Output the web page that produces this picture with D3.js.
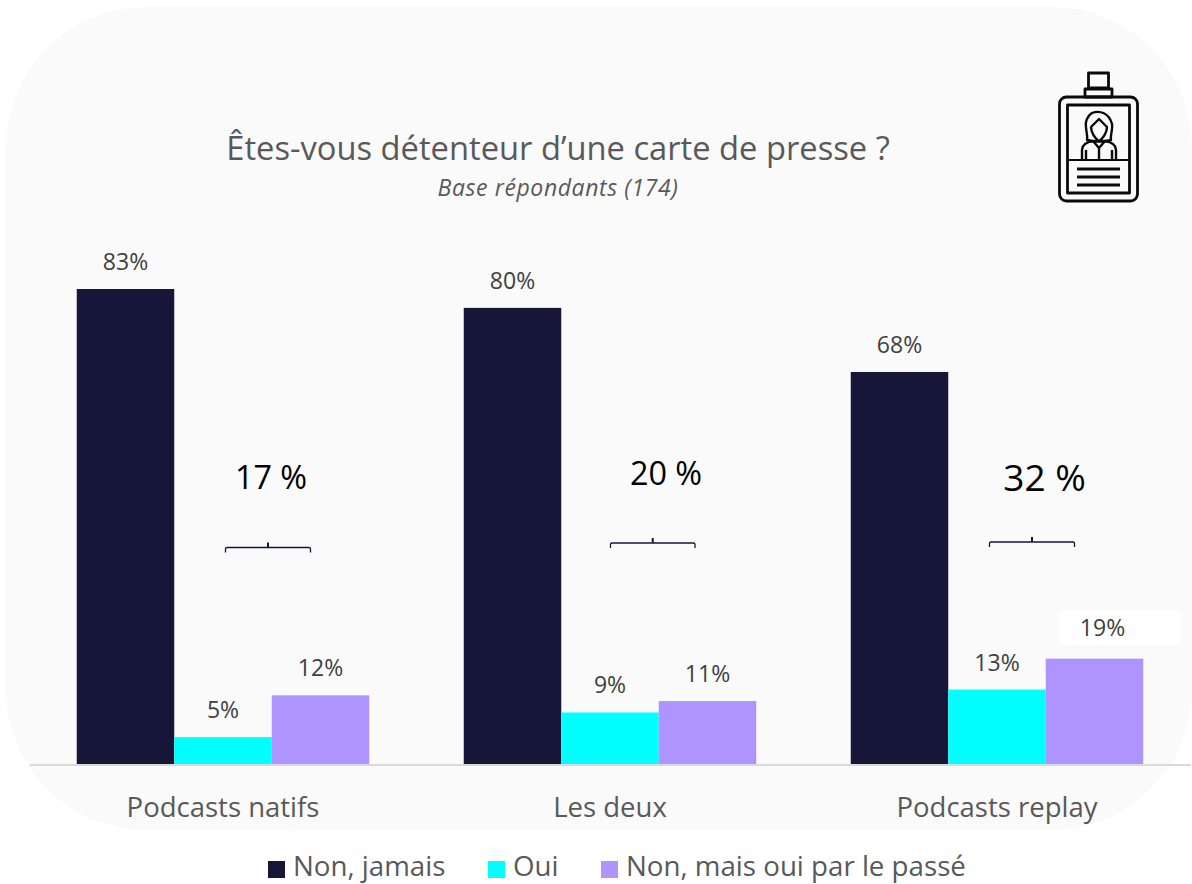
<!DOCTYPE html>
<html>
<head>
    <meta charset="utf-8">
    <title>Carte de presse</title>
    <script src="https://d3js.org/d3.v7.min.js"></script>
    <style>
        html, body { margin: 0; padding: 0; background: #fff; overflow: hidden; }
        text { font-family: "Open Sans", sans-serif; }
    </style>
</head>

<body>
<div id="chart"></div>
<script type="text/javascript">

    // donnees
    const categories = ["Podcasts natifs", "Les deux", "Podcasts replay"];
    const seriesNames = ["Non, jamais", "Oui", "Non, mais oui par le passé"];
    const seriesColors = ["#161638", "#00FFFF", "#AF94FF"];
    const nonJamais = [83, 79.7, 68.5];
    const oui = [4.7, 9, 13];
    const passe = [12, 11, 18.4];
    const nonJamaisLabels = ["83%", "80%", "68%"];
    const ouiLabels = ["5%", "9%", "13%"];
    const passeLabels = ["12%", "11%", "19%"];
    const totals = ["17 %", "20 %", "32 %"];

    const seriesValues = [nonJamais, oui, passe];
    const seriesLabels = [nonJamaisLabels, ouiLabels, passeLabels];

    const w = 1192, h = 884;
    const baseline = 764;

    const svg = d3.select("#chart")
        .append("svg")
        .attr("width", w)
        .attr("height", h)
        .style("display", "block");

    // fond arrondi
    svg.append("rect")
        .attr("x", 6).attr("y", 7)
        .attr("width", 1186).attr("height", 823)
        .attr("rx", 140).attr("ry", 140)
        .attr("fill", "#FAFAFA");

    const x0 = d3.scaleBand()
        .domain(categories)
        .range([29.5, 1190.5])
        .paddingInner(0.2442)
        .paddingOuter(0.1221);

    const x1 = d3.scaleBand()
        .domain(seriesNames)
        .range([0, x0.bandwidth()]);

    const y = d3.scaleLinear()
        .domain([0, 83])
        .range([baseline, 289]);

    // case blanche derriere le 19%
    svg.append("rect")
        .attr("x", 1060).attr("y", 610)
        .attr("width", 120).attr("height", 35)
        .attr("fill", "#fff");

    // barres
    seriesNames.forEach(function(name, s) {
        const g = svg.append("g");
        g.selectAll("rect")
            .data(categories)
            .enter()
            .append("rect")
            .attr("x", function(c) { return x0(c) + x1(name); })
            .attr("y", function(c, i) { return y(seriesValues[s][i]); })
            .attr("width", x1.bandwidth())
            .attr("height", function(c, i) { return baseline - y(seriesValues[s][i]); })
            .attr("fill", seriesColors[s]);

        g.selectAll("text")
            .data(categories)
            .enter()
            .append("text")
            .attr("x", function(c, i) {
                // le 19% est decale dans sa case blanche
                const dx = (s === 2 && i === 2) ? 8 : 0;
                return x0(c) + x1(name) + x1.bandwidth() / 2 + dx;
            })
            .attr("y", function(c, i) {
                const up = (s === 2 && i === 2) ? 23 : 19;
                return y(seriesValues[s][i]) - up;
            })
            .attr("text-anchor", "middle")
            .attr("font-size", "23px")
            .attr("fill", "#404040")
            .text(function(c, i) { return seriesLabels[s][i]; });
    });

    // axe
    const xAxis = d3.axisBottom(x0).tickSize(0).tickPadding(33);
    const axisG = svg.append("g")
        .attr("transform", "translate(0," + (baseline + 0.5) + ")")
        .call(xAxis);
    axisG.select(".domain").attr("stroke", "#D9D9D9").attr("stroke-width", 2);
    axisG.selectAll("text")
        .attr("font-family", "Open Sans")
        .attr("font-size", "27.5px")
        .attr("fill", "#595959");

    // titres
    svg.append("text")
        .attr("x", 558).attr("y", 160)
        .attr("text-anchor", "middle")
        .attr("font-size", "32.7px")
        .attr("fill", "#595959")
        .text("Êtes-vous détenteur d’une carte de presse ?");
    svg.append("text")
        .attr("x", 558).attr("y", 196)
        .attr("text-anchor", "middle")
        .attr("font-size", "23px")
        .attr("letter-spacing", "0.6px")
        .attr("font-style", "italic")
        .attr("fill", "#595959")
        .text("Base répondants (174)");

    // accolades et totaux (oui + passe)
    const bracketLayout = [
        {left: 225.5, right: 310.5, top: 547.5, textX: 271, textY: 489, size: 32.4},
        {left: 610.5, right: 695, top: 543, textX: 666, textY: 485, size: 32.4},
        {left: 989.5, right: 1074.5, top: 542, textX: 1044.5, textY: 491, size: 37}
    ];
    bracketLayout.forEach(function(b, i) {
        const mid = (b.left + b.right) / 2;
        svg.append("path")
            .attr("d", "M" + b.left + "," + (b.top + 5) + " V" + (b.top + 1.5) +
                " Q" + b.left + "," + b.top + " " + (b.left + 1.5) + "," + b.top +
                " H" + (b.right - 1.5) +
                " Q" + b.right + "," + b.top + " " + b.right + "," + (b.top + 1.5) +
                " V" + (b.top + 5))
            .attr("fill", "none")
            .attr("stroke", "#161638")
            .attr("stroke-width", 1.3);
        svg.append("path")
            .attr("d", "M" + mid + "," + b.top + " V" + (b.top - 5))
            .attr("stroke", "#161638")
            .attr("stroke-width", 2);
        svg.append("text")
            .attr("x", b.textX).attr("y", b.textY)
            .attr("text-anchor", "middle")
            .attr("font-size", b.size + "px")
            .attr("fill", "#000")
            .text(totals[i]);
    });

    // legende
    const legendLayout = [
        {box: 268, text: 293},
        {box: 488, text: 513},
        {box: 601, text: 626}
    ];
    seriesNames.forEach(function(name, i) {
        svg.append("rect")
            .attr("x", legendLayout[i].box).attr("y", 861)
            .attr("width", 17).attr("height", 17)
            .attr("fill", seriesColors[i]);
        svg.append("text")
            .attr("x", legendLayout[i].text).attr("y", 876)
            .attr("font-size", "27.7px")
            .attr("fill", "#595959")
            .text(name);
    });

    // icone carte de presse
    const icon = svg.append("g")
        .attr("fill", "none")
        .attr("stroke", "#0a0a0a")
        .attr("stroke-width", 2.8)
        .attr("stroke-linejoin", "round");
    icon.append("rect").attr("x", 1088.5).attr("y", 73).attr("width", 20).attr("height", 15);
    icon.append("rect").attr("x", 1085).attr("y", 89).attr("width", 27).attr("height", 8);
    icon.append("rect").attr("x", 1059.5).attr("y", 97).attr("width", 78).attr("height", 104).attr("rx", 7);
    icon.append("rect").attr("x", 1067.5).attr("y", 105).attr("width", 62).attr("height", 88);
    icon.append("path").attr("d", "M1067.5,160 H1129.5").attr("stroke-width", 2);
    icon.append("path").attr("d", "M1077,169 H1120 M1077,177 H1120 M1077,185 H1120");
    // personnage
    icon.append("path").attr("stroke-width", 2.4)
        .attr("d", "M1092,113 C1100,110 1109,113 1112,124 C1113,129 1110,136 1111,140 C1105,142 1093,142 1087,140 C1088,135 1085,128 1086,122 C1087,118 1089,115 1092,113 Z");
    icon.append("path").attr("stroke-width", 2.4)
        .attr("d", "M1099,119 L1091,127 C1091,132 1095,139 1099,141 C1103,139 1107,132 1107,127 Z");
    icon.append("path").attr("stroke-width", 2.4)
        .attr("d", "M1082,160 V150 C1082,144 1087,142 1093,141 L1099,148 L1105,141 C1111,142 1116,144 1116,150 V160 M1086,150 V160 M1112,150 V160 M1099,148 V160");

</script>
</body>
</html>
